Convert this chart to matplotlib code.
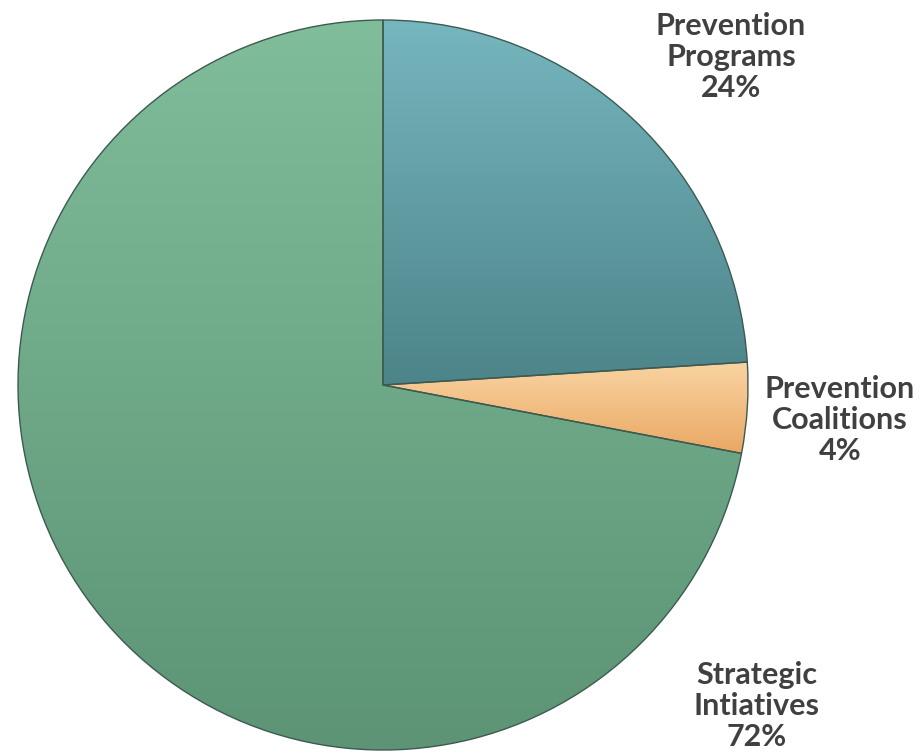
import numpy as np
import matplotlib.pyplot as plt
from matplotlib.colors import LinearSegmentedColormap

labels = ["Prevention\nPrograms", "Prevention\nCoalitions", "Strategic\nIntiatives"]
shares = [24, 4, 72]
pct_text = ["24%", "4%", "72%"]
# (top colour, bottom colour) for each slice
slice_colors = [("#76b6be", "#4c8489"), ("#f9d4a2", "#eaa864"), ("#80bd9b", "#5c9475")]

W, H = 923, 753
fig = plt.figure(figsize=(W / 100, H / 100), dpi=100)
ax = fig.add_axes([0, 0, 1, 1])

cx, cy, r = 383, 368, 365
wedges, _ = ax.pie(shares, startangle=90, counterclock=False, center=(cx, cy),
                   radius=r, frame=True,
                   wedgeprops=dict(edgecolor="#3d5a50", linewidth=1.0))
ax.set_xlim(0, W)
ax.set_ylim(0, H)
ax.set_aspect("equal")
ax.axis("off")

# vertical gradient inside each wedge, spanning the wedge's own height
for w, (c_top, c_bot) in zip(wedges, slice_colors):
    ext = w.get_path().get_extents()
    cmap = LinearSegmentedColormap.from_list("g", [c_bot, c_top])
    grad = np.linspace(0, 1, 256).reshape(-1, 1)
    im = ax.imshow(grad, cmap=cmap, extent=(ext.x0, ext.x1, ext.y0, ext.y1),
                   origin="lower", aspect="auto", zorder=w.get_zorder())
    im.set_clip_path(w)
    w.set_facecolor("none")
    w.set_zorder(w.get_zorder() + 1)
ax.set_xlim(0, W)
ax.set_ylim(0, H)

# label positions in pixels (x, y from top)
label_pos = [(731, 57), (840, 420), (757, 706)]
for lab, pct, (x, y) in zip(labels, pct_text, label_pos):
    ax.text(x, H - y, lab + "\n" + pct, ha="center", va="center",
            fontsize=22, fontweight="bold", family="Lato", color="#404040",
            linespacing=1.15)

fig.savefig("out.png", dpi=100)
